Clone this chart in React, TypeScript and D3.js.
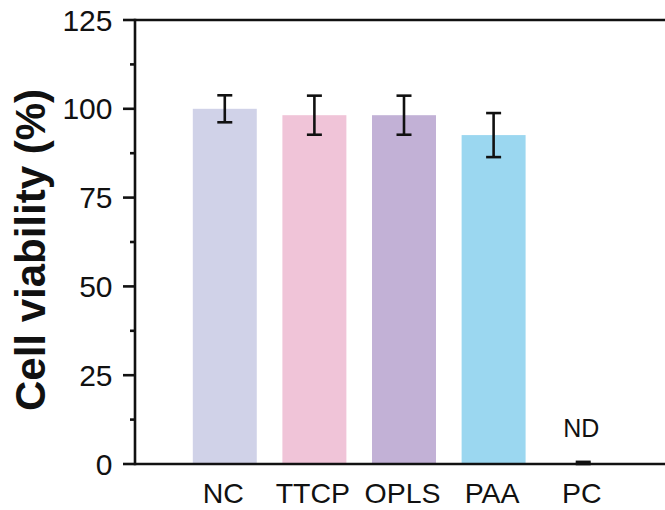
import React from "react";
import * as d3 from "d3";

const categories = ["NC", "TTCP", "OPLS", "PAA", "PC"];
const values = [100, 98.2, 98.2, 92.6, 0];
const errors = [3.8, 5.5, 5.5, 6.2, 0.6];
const colors = ["#d0d2e8", "#f0c4d8", "#c2b1d6", "#9bd7f0", "#ffffff"];
const majorTicks = [0, 25, 50, 75, 100, 125];
const minorTicks = [12.5, 37.5, 62.5, 87.5, 112.5];
const yTitle = "Cell viability (%)";
const ndLabel = "ND";

export default function App() {
  const W = 665, H = 510;
  const left = 135, right = 673, top = 20, bottom = 464;
  const x = d3.scaleBand<string>().domain(categories).range([left, right]).paddingInner(0.286).paddingOuter(0.645);
  const y = d3.scaleLinear().domain([0, 125]).range([bottom, top]);
  const bw = x.bandwidth();
  const font = "Arial, 'Liberation Sans', Helvetica, sans-serif";
  const capW = 15;
  return (
    <svg width={W} height={H} style={{ position: "absolute", left: 0, top: 0, background: "#fff" }} fontFamily={font}>
      {categories.map((c, i) => (
        <rect key={c} x={x(c)} y={y(values[i])} width={bw} height={y(0) - y(values[i])} fill={colors[i]} />
      ))}
      {categories.map((c, i) => {
        const cx = (x(c) as number) + bw / 2;
        const yt = y(values[i] + errors[i]);
        const yb = y(Math.max(0, values[i] - errors[i]));
        return (
          <g key={c} stroke="#111" strokeWidth={2.6}>
            <line x1={cx} x2={cx} y1={yt} y2={yb} />
            <line x1={cx - capW / 2} x2={cx + capW / 2} y1={yt} y2={yt} />
            <line x1={cx - capW / 2} x2={cx + capW / 2} y1={yb} y2={yb} />
          </g>
        );
      })}
      <text x={(x("PC") as number) + bw / 2 - 2} y={437} fontSize={25} textAnchor="middle" fill="#111">{ndLabel}</text>
      <line x1={left} x2={W} y1={top} y2={top} stroke="#111" strokeWidth={2.6} />
      <line x1={left} x2={W} y1={bottom} y2={bottom} stroke="#111" strokeWidth={2.6} />
      <line x1={left} x2={left} y1={top - 1.3} y2={bottom + 1.3} stroke="#111" strokeWidth={2.6} />
      {majorTicks.map((t) => (
        <g key={t}>
          <line x1={left - 12} x2={left} y1={y(t)} y2={y(t)} stroke="#111" strokeWidth={2.6} />
          <text x={112.5} y={y(t) + 10.5} fontSize={30} textAnchor="end" fill="#111">{t}</text>
        </g>
      ))}
      {minorTicks.map((t) => (
        <line key={t} x1={left - 5} x2={left} y1={y(t)} y2={y(t)} stroke="#111" strokeWidth={2.6} />
      ))}
      {categories.map((c) => (
        <text key={c} x={(x(c) as number) + bw / 2 - 1.5} y={503} fontSize={28.5} textAnchor="middle" fill="#111">{c}</text>
      ))}
      <text transform={`translate(45,250) rotate(-90)`} fontSize={42} fontWeight="bold" textAnchor="middle" fill="#111">{yTitle}</text>
    </svg>
  );
}
